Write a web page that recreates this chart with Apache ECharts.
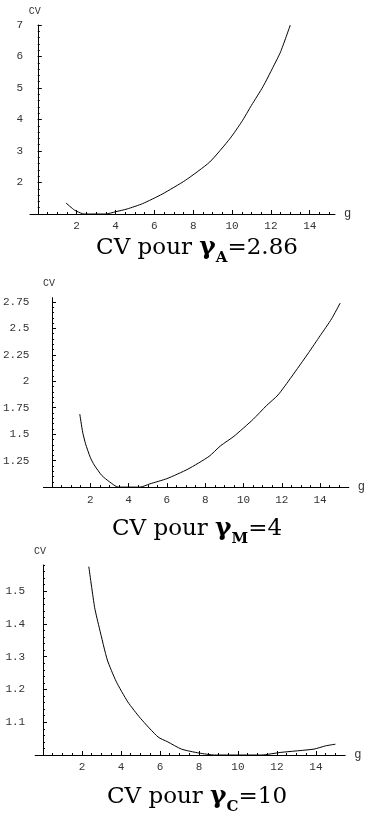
<!DOCTYPE html>
<html>
<head>
  <meta charset="utf-8">
  <title>CV pour gamma</title>
  <script src="https://cdn.jsdelivr.net/npm/echarts@6/dist/echarts.min.js"></script>
  <style>
    html, body { margin: 0; padding: 0; background: #fff; }
  </style>
</head>
<body>
  <div id="chart" style="width: 366px; height: 815px;"></div>

  <script>
    // courbe 1 : gamma_A = 2.86
    const gA  = [1.45, 1.9, 2.3, 2.5, 3.0, 3.5, 4.0, 4.6, 5.4, 6.4, 7.6, 8.85, 9.9, 10.5, 11.0, 11.6, 12.1, 12.5, 13.0];
    const cvA = [1.35, 1.12, 1.01, 1.0, 1.0, 1.0, 1.07, 1.16, 1.33, 1.63, 2.07, 2.65, 3.4, 3.93, 4.45, 5.05, 5.65, 6.15, 7.0];

    // courbe 2 : gamma_M = 4
    const gM  = [1.45, 1.6, 1.75, 2.0, 2.2, 2.6, 3.0, 3.45, 4.0, 4.6, 5.1, 6.0, 7.1, 8.2, 8.8, 9.5, 10.5, 11.2, 11.8, 12.5, 13.4, 14.0, 14.6, 15.05];
    const cvM = [1.69, 1.52, 1.41, 1.28, 1.21, 1.11, 1.05, 1.0, 1.0, 1.0, 1.03, 1.08, 1.17, 1.29, 1.39, 1.48, 1.64, 1.77, 1.87, 2.04, 2.27, 2.43, 2.59, 2.74];

    // courbe 3 : gamma_C = 10
    const gC  = [2.35, 2.65, 2.9, 3.3, 3.75, 4.35, 5.0, 5.9, 6.4, 7.1, 8.0, 8.8, 10.0, 11.2, 12.2, 13.9, 14.5, 15.0];
    const cvC = [1.575, 1.45, 1.385, 1.29, 1.225, 1.162, 1.112, 1.055, 1.04, 1.018, 1.006, 1.0, 1.0, 1.0, 1.008, 1.018, 1.028, 1.033];

    // graduations
    const xTicks  = [2, 4, 6, 8, 10, 12, 14];
    const yTicksA = [2, 3, 4, 5, 6, 7];
    const yTicksM = [1.25, 1.5, 1.75, 2, 2.25, 2.5, 2.75];
    const yTicksC = [1.1, 1.2, 1.3, 1.4, 1.5];

    function steps(from, to, step) {
      const out = [];
      const n = Math.round((to - from) / step);
      for (let i = 0; i <= n; i++) out.push(+(from + i * step).toFixed(4));
      return out;
    }

    const panels = [
      { grid: { left: 30, top: 25, width: 305, height: 189 }, xMin: -0.4, xMax: 15.3, yMin: 1, yMax: 7,
        yTicks: yTicksA, yMinor: steps(1, 7, 0.2), g: gA, cv: cvA, yMargin: 7, sub: 'A', val: '2.86', titleTop: 230 },
      { grid: { left: 36.6, top: 297.7, width: 315, height: 189.4 }, xMin: -0.45, xMax: 15.5, yMin: 1, yMax: 2.79,
        yTicks: yTicksM, yMinor: steps(1, 2.75, 0.05), g: gM, cv: cvM, yMargin: 14, sub: 'M', val: '4', titleTop: 511 },
      { grid: { left: 35.2, top: 565, width: 310, height: 190 }, xMin: -0.4, xMax: 15.5, yMin: 1, yMax: 1.58,
        yTicks: yTicksC, yMinor: steps(1, 1.58, 0.02), g: gC, cv: cvC, yMargin: 10, sub: 'C', val: '10', titleTop: 779 }
    ];

    const labelFont = { fontFamily: 'Liberation Mono', fontSize: 11, color: '#333' };
    const xMinor = steps(0, 15, 0.5);

    const grids = [], xAxes = [], yAxes = [], series = [], titles = [];

    panels.forEach(function (p, i) {
      grids.push(p.grid);
      // axe principal x
      xAxes.push({
        type: 'value', gridIndex: i, position: 'bottom', min: p.xMin, max: p.xMax,
        name: 'g', nameLocation: 'end', nameGap: 9,
        nameTextStyle: { fontFamily: 'Liberation Mono', fontSize: 12, color: '#333' },
        axisLine: { show: true, lineStyle: { color: '#000', width: 1 } },
        axisTick: { show: true, inside: true, length: 4, customValues: xTicks, lineStyle: { color: '#000' } },
        axisLabel: Object.assign({ show: true, margin: 7, customValues: xTicks }, labelFont),
        splitLine: { show: false }
      });
      // graduations secondaires x
      xAxes.push({
        type: 'value', gridIndex: i, position: 'bottom', min: p.xMin, max: p.xMax,
        axisLine: { show: false },
        axisTick: { show: true, inside: true, length: 2, customValues: xMinor, lineStyle: { color: '#000' } },
        axisLabel: { show: false },
        splitLine: { show: false }
      });
      // axe principal y
      yAxes.push({
        type: 'value', gridIndex: i, position: 'left', min: p.yMin, max: p.yMax,
        name: 'CV', nameLocation: 'end', nameGap: 9,
        nameTextStyle: { fontFamily: 'Liberation Mono', fontSize: 10, color: '#333', align: 'right', padding: [0, -3, 0, 0] },
        axisLine: { show: true, onZero: true, lineStyle: { color: '#000', width: 1 } },
        axisTick: { show: true, inside: true, length: 4, customValues: p.yTicks, lineStyle: { color: '#000' } },
        axisLabel: Object.assign({ show: true, margin: p.yMargin, customValues: p.yTicks }, labelFont),
        splitLine: { show: false }
      });
      // graduations secondaires y
      yAxes.push({
        type: 'value', gridIndex: i, position: 'left', min: p.yMin, max: p.yMax,
        axisLine: { show: false, onZero: true },
        axisTick: { show: true, inside: true, length: 2, customValues: p.yMinor, lineStyle: { color: '#000' } },
        axisLabel: { show: false },
        splitLine: { show: false }
      });

      series.push({
        type: 'line', xAxisIndex: 2 * i, yAxisIndex: 2 * i,
        data: p.g.map(function (x, k) { return [x, p.cv[k]]; }),
        showSymbol: false, smooth: 0.2,
        lineStyle: { color: '#000', width: 1 },
        silent: true
      });

      titles.push({
        text: '{t|CV pour }{g|γ}{s|' + p.sub + '}{t|=' + p.val + '}',
        left: 192, textAlign: 'center', top: p.titleTop,
        textStyle: {
          fontWeight: 'normal',
          rich: {
            t: { fontFamily: 'DejaVu Serif', fontSize: 23, fontWeight: 'normal', color: '#000', verticalAlign: 'bottom', padding: [0, 0, 6, 0] },
            g: { fontFamily: 'DejaVu Serif', fontSize: 25, fontWeight: 'bold', color: '#000', verticalAlign: 'bottom', padding: [0, 0, 6, 0] },
            s: { fontFamily: 'DejaVu Serif', fontSize: 15, fontWeight: 'bold', color: '#000', verticalAlign: 'bottom' }
          }
        }
      });
    });

    const chart = echarts.init(document.getElementById('chart'), null, { renderer: 'canvas' });
    chart.setOption({
      animation: false,
      backgroundColor: '#fff',
      title: titles,
      grid: grids,
      xAxis: xAxes,
      yAxis: yAxes,
      series: series
    });
  </script>
</body>
</html>
